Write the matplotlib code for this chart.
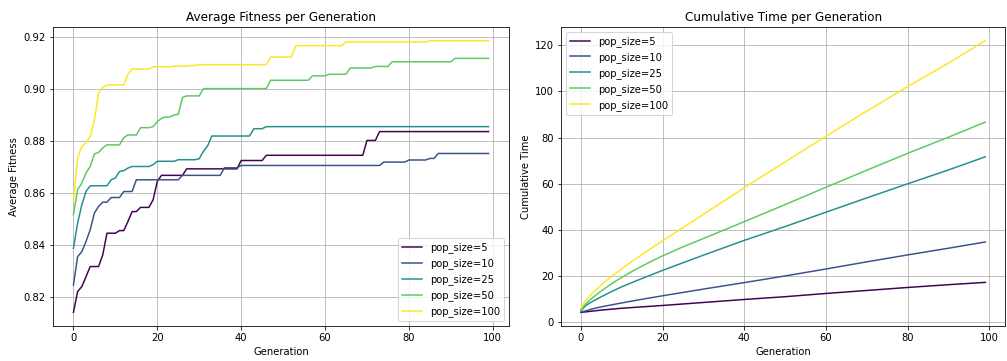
import numpy as np
import matplotlib
matplotlib.use("Agg")
import matplotlib.pyplot as plt

pop_sizes = [5, 10, 25, 50, 100]
generations = np.arange(100)

# average fitness: generation where the best-so-far value changes, and the new value
fit_gen = {
    5:   [0, 1, 2, 3, 4, 7, 8, 11, 13, 14, 16, 19, 20, 21, 27, 40, 46, 70, 73],
    10:  [0, 1, 2, 3, 4, 5, 6, 7, 9, 12, 15, 26, 36, 40, 74, 80, 85, 87],
    25:  [0, 1, 2, 3, 4, 9, 10, 11, 12, 13, 14, 19, 20, 25, 30, 31, 32, 33, 43, 46],
    50:  [0, 1, 2, 3, 4, 5, 6, 7, 8, 12, 13, 16, 19, 20, 21, 22, 24, 25, 26, 27,
          31, 47, 57, 61, 66, 72, 76, 91],
    100: [0, 1, 2, 3, 4, 5, 6, 7, 8, 13, 14, 19, 24, 28, 30, 47, 53, 65, 85],
}
fit_val = {
    5:   [0.8142, 0.8222, 0.8241, 0.8279, 0.8318, 0.8363, 0.8446, 0.8456, 0.8491,
          0.8529, 0.8545, 0.8574, 0.8645, 0.8668, 0.8693, 0.8725, 0.8745, 0.8802, 0.8836],
    10:  [0.8247, 0.8356, 0.8375, 0.8414, 0.8459, 0.8523, 0.8549, 0.8565, 0.8583,
          0.8606, 0.8651, 0.8668, 0.8697, 0.8706, 0.8719, 0.8727, 0.8733, 0.8752],
    25:  [0.8388, 0.8485, 0.8555, 0.8606, 0.8628, 0.8651, 0.8658, 0.8683, 0.8686,
          0.8696, 0.8702, 0.8709, 0.8722, 0.8728, 0.8732, 0.8760, 0.8781, 0.8819,
          0.8847, 0.8855],
    50:  [0.8517, 0.8613, 0.8638, 0.8677, 0.8702, 0.8750, 0.8756, 0.8774, 0.8785,
          0.8813, 0.8823, 0.8851, 0.8855, 0.8874, 0.8887, 0.8892, 0.8900, 0.8902,
          0.8967, 0.8973, 0.9001, 0.9033, 0.9050, 0.9056, 0.9080, 0.9086, 0.9104, 0.9117],
    100: [0.8568, 0.8735, 0.8779, 0.8792, 0.8818, 0.8880, 0.8984, 0.9005, 0.9015,
          0.9056, 0.9076, 0.9085, 0.9087, 0.9090, 0.9093, 0.9122, 0.9166, 0.9180, 0.9185],
}

# cumulative time, read at a few generations
time_gen = {
    5:   [0, 5, 10, 20, 30, 40, 50, 60, 70, 80, 90, 99],
    10:  [0, 1, 2, 3, 5, 7, 10, 15, 20, 30, 40, 50, 60, 70, 80, 90, 99],
    25:  [0, 1, 2, 3, 5, 7, 10, 13, 16, 20, 25, 30, 40, 50, 60, 70, 80, 90, 99],
    50:  [0, 1, 2, 3, 5, 7, 9, 11, 13, 15, 17, 20, 25, 30, 40, 50, 60, 70, 80, 90, 99],
    100: [0, 1, 2, 3, 5, 7, 9, 11, 13, 15, 17, 20, 24, 30, 40, 50, 60, 70, 80, 90, 99],
}
time_val = {
    5:   [4.3, 5.3, 6.1, 7.3, 8.6, 9.9, 11.1, 12.5, 13.8, 15.1, 16.3, 17.3],
    10:  [4.4, 4.9, 5.4, 5.9, 6.7, 7.4, 8.4, 10.0, 11.5, 14.4, 17.2, 20.1, 23.1,
          26.2, 29.2, 32.1, 34.8],
    25:  [5.0, 6.9, 8.2, 9.2, 11.1, 12.9, 15.4, 17.6, 19.7, 22.5, 25.8, 29.1, 35.5,
          41.5, 47.7, 53.9, 60.0, 66.0, 71.7],
    50:  [5.4, 7.6, 9.4, 10.9, 13.6, 16.1, 18.4, 20.5, 22.5, 24.4, 26.2, 28.8, 32.7,
          36.3, 43.6, 51.0, 58.5, 65.9, 73.2, 80.2, 86.7],
    100: [6.0, 9.0, 11.2, 13.0, 16.2, 19.2, 21.9, 24.5, 27.0, 29.4, 31.8, 35.3, 39.9,
          46.8, 58.3, 69.5, 80.6, 91.5, 102.1, 112.3, 122.0],
}


def hold_steps(change_gen, change_val):
    idx = np.searchsorted(change_gen, generations, side="right") - 1
    return np.asarray(change_val)[idx]


colors = plt.cm.viridis(np.linspace(0, 1, len(pop_sizes)))

fig = plt.figure(figsize=(1007 / 72, 361 / 72), dpi=72)
ax1 = fig.add_axes([0.0523, 0.097, 0.4535, 0.828])
ax2 = fig.add_axes([0.5568, 0.097, 0.4417, 0.828])

for p, c in zip(pop_sizes, colors):
    ax1.plot(generations, hold_steps(fit_gen[p], fit_val[p]), color=c, label=f"pop_size={p}")
    ax2.plot(time_gen[p], time_val[p], color=c, label=f"pop_size={p}")

ax1.set_title("Average Fitness per Generation")
ax1.set_xlabel("Generation")
ax1.set_ylabel("Average Fitness")
ax1.legend(loc="lower right")
ax1.grid(True)

ax2.set_title("Cumulative Time per Generation")
ax2.set_xlabel("Generation")
ax2.set_ylabel("Cumulative Time")
ax2.legend(loc="upper left")
ax2.grid(True)

fig.savefig("out.png", dpi=72)
